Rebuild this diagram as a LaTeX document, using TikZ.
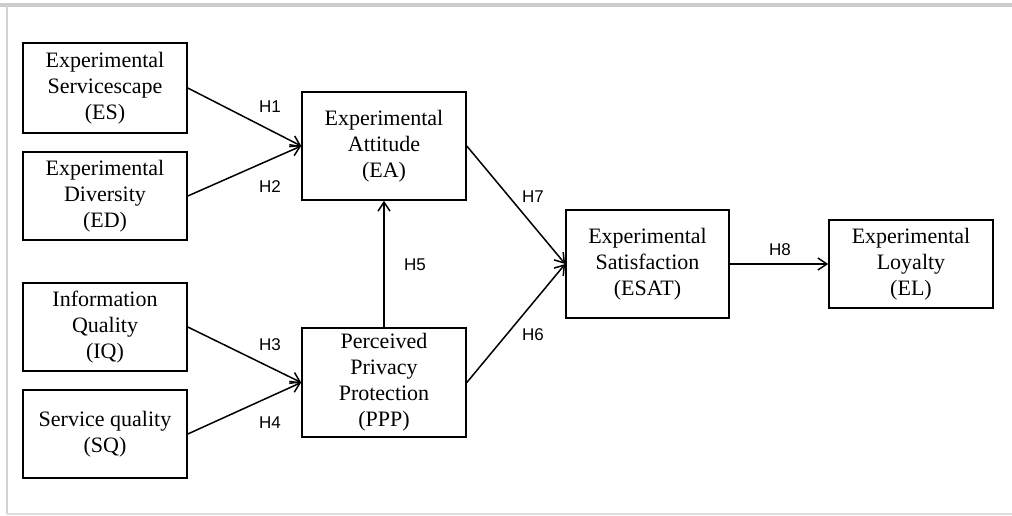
\documentclass[tikz,border=0pt]{standalone}
\usepackage{fontspec}
\setmainfont{Liberation Serif}
\newfontfamily\hfont{Liberation Sans}
\usetikzlibrary{arrows.meta}
\begin{document}
\begin{tikzpicture}[x=1pt,y=-1pt,
  box/.style={draw, line width=1.6pt, inner sep=0pt, minimum width=164pt, align=center,
    font=\fontsize{22}{26}\selectfont},
  conn/.style={line width=1.5pt, -{Straight Barb[length=9pt,width=12pt,line width=1.5pt]}},
  hlab/.style={font=\hfont\fontsize{17}{20}\selectfont, inner sep=0pt}]
\useasboundingbox (0,0) rectangle (1012,516);
% frame
\draw[line width=4pt, draw={rgb,255:red,204;green,204;blue,204}] (0,5) -- (1012,5);
\draw[line width=2.5pt, draw={rgb,255:red,210;green,210;blue,210}] (7,5) -- (7,514);
\draw[line width=2pt, draw={rgb,255:red,221;green,221;blue,221}] (7,514) -- (1012,514);
% nodes
\node[box, minimum height=90pt] (ES) at (105,88) {Experimental\\Servicescape\\(ES)};
\node[box, minimum height=88pt] (ED) at (105,196) {Experimental\\Diversity\\(ED)};
\node[box, minimum height=88pt] (IQ) at (105,327) {Information\\Quality\\(IQ)};
\node[box, minimum height=88pt] (SQ) at (105,434) {Service quality\\(SQ)};
\node[box, minimum height=108pt] (EA) at (384,146) {Experimental\\Attitude\\(EA)};
\node[box, minimum height=109pt] (PPP) at (384,382.5) {Perceived\\Privacy\\Protection\\(PPP)};
\node[box, minimum height=108pt, minimum width=163pt] (ESAT) at (647.5,264) {Experimental\\Satisfaction\\(ESAT)};
\node[box, minimum height=88pt] (EL) at (911,264) {Experimental\\Loyalty\\(EL)};
% connectors
\draw[conn] (ES.east) -- (EA.west);
\draw[conn] (ED.east) -- (EA.west);
\draw[conn] (IQ.east) -- (PPP.west);
\draw[conn] (SQ.east) -- (PPP.west);
\draw[conn] (PPP.north) -- (EA.south);
\draw[conn] (EA.east) -- (ESAT.west);
\draw[conn] (PPP.east) -- (ESAT.west);
\draw[conn] (ESAT.east) -- (EL.west);
% labels
\node[hlab] (h1) at (270,107) {H1};
\node[hlab] (h2) at (270,187) {H2};
\node[hlab] (h3) at (270,345) {H3};
\node[hlab] (h4) at (270,423) {H4};
\node[hlab] (h5) at (415,265) {H5};
\node[hlab] (h7) at (533,197) {H7};
\node[hlab] (h6) at (533,335) {H6};
\node[hlab] (h8) at (780,250) {H8};
\end{tikzpicture}
\end{document}
